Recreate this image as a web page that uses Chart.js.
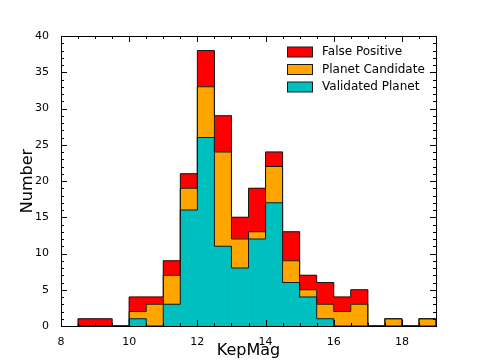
<!DOCTYPE html>
<html>
<head>
<meta charset="utf-8">
<script src="https://cdn.jsdelivr.net/npm/chart.js@4.4.1/dist/chart.umd.min.js"></script>
<style>
  html, body { margin: 0; padding: 0; background: #fff; }
  #wrap { width: 485px; height: 363px; }
</style>
</head>
<body>
<div id="wrap"><canvas id="histo"></canvas></div>
<script>
Chart.defaults.font.family = "'DejaVu Sans', sans-serif";
Chart.defaults.color = '#000';

// bins of width 0.5 from 8.5 to 19
const binEdges = [8.5, 9, 9.5, 10, 10.5, 11, 11.5, 12, 12.5, 13, 13.5, 14,
  14.5, 15, 15.5, 16, 16.5, 17, 17.5, 18, 18.5, 19];
const validated = [0, 0, 0, 1, 0, 3, 16, 26, 11, 8, 12, 17, 6, 4, 1, 0, 0, 0, 0, 0, 0];
const candidate = [0, 0, 0, 1, 3, 4, 3, 7, 13, 4, 1, 5, 3, 1, 2, 2, 3, 0, 1, 0, 1];
const falsePos  = [1, 1, 0, 2, 1, 2, 2, 5, 5, 3, 6, 2, 4, 2, 3, 2, 2, 0, 0, 0, 0];
const xTicks = [8, 10, 12, 14, 16, 18];
const seriesNames = ['Validated Planet', 'Planet Candidate', 'False Positive'];
const seriesColors = ['#00bfbf', '#ffa500', '#ff0000'];

const layers = [validated, candidate, falsePos];
const centers = binEdges.slice(0, -1).map((e, i) => (e + binEdges[i + 1]) / 2);

// filled bars (stacked)
const bars = layers.map((arr, i) => ({
  type: 'bar',
  label: seriesNames[i],
  stack: 'hist',
  order: 2,
  data: centers.map((c, j) => ({ x: c, y: arr[j] })),
  backgroundColor: seriesColors[i],
  borderWidth: 0,
  barPercentage: 1,
  categoryPercentage: 1
}));

// step outline of each cumulative layer (stepfilled look)
const steps = layers.map((arr, i) => {
  const cum = arr.map((_, j) => layers.slice(0, i + 1).reduce((s, a) => s + a[j], 0));
  const pts = [{ x: binEdges[0], y: 0 }];
  cum.forEach((v, j) => pts.push({ x: binEdges[j + 1], y: v }));
  pts.push({ x: binEdges[binEdges.length - 1], y: 0 });
  return {
    type: 'line',
    label: 'edge' + i,
    yAxisID: 'yEdge',
    order: 1,
    data: pts,
    stepped: 'after',
    borderColor: '#1a1a1a',
    borderWidth: 1,
    pointRadius: 0,
    fill: false
  };
});

// inward ticks + frame + legend, like matplotlib
const frame = {
  id: 'frame',
  afterDatasetsDraw(chart) {
    const { ctx, chartArea: a, scales: { x, y } } = chart;
    ctx.save();
    ctx.strokeStyle = '#000';
    ctx.lineWidth = 1;
    ctx.beginPath();
    for (let v = 8; v <= 19.001; v += 0.5) {
      const px = Math.round(x.getPixelForValue(v)) + 0.5;
      const len = (v % 2 === 0) ? 6 : 3;
      ctx.moveTo(px, a.bottom); ctx.lineTo(px, a.bottom - len);
      ctx.moveTo(px, a.top); ctx.lineTo(px, a.top + len);
    }
    for (let v = 0; v <= 40; v += 1) {
      const py = Math.round(y.getPixelForValue(v)) + 0.5;
      const len = (v % 5 === 0) ? 6 : 3;
      ctx.moveTo(a.left, py); ctx.lineTo(a.left + len, py);
      ctx.moveTo(a.right, py); ctx.lineTo(a.right - len, py);
    }
    ctx.stroke();
    ctx.strokeRect(Math.round(a.left) + 0.5, Math.round(a.top) + 0.5,
      Math.round(a.right - a.left), Math.round(a.bottom - a.top));

    ctx.font = "12px 'DejaVu Sans', sans-serif";
    ctx.textBaseline = 'middle';
    [2, 1, 0].forEach((k, r) => {
      const ty = 52 + r * 17.5;
      ctx.fillStyle = seriesColors[k];
      ctx.fillRect(287.5, ty - 5, 25, 10);
      ctx.strokeStyle = '#1a1a1a';
      ctx.strokeRect(287.5, ty - 5, 25, 10);
      ctx.fillStyle = '#000';
      ctx.fillText(seriesNames[k], 322, ty);
    });
    ctx.restore();
  }
};

new Chart(document.getElementById('histo'), {
  type: 'bar',
  data: { datasets: [...bars, ...steps] },
  options: {
    responsive: true,
    maintainAspectRatio: false,
    animation: false,
    layout: { padding: { top: 36, right: 49, left: 0, bottom: 0 } },
    plugins: { legend: { display: false }, tooltip: { enabled: false } },
    scales: {
      x: {
        type: 'linear',
        offset: false,
        min: 8, max: 19,
        afterBuildTicks: s => { s.ticks = xTicks.map(v => ({ value: v })); },
        afterFit: s => { s.height = 37; },
        grid: { display: false, offset: false },
        border: { display: false },
        ticks: { font: { size: 11 }, padding: 2, maxRotation: 0 },
        title: { display: true, text: 'KepMag', font: { size: 16 }, padding: { top: 0, bottom: 3 } }
      },
      y: {
        stacked: true,
        min: 0, max: 40,
        afterFit: s => { s.width = 61; },
        grid: { display: false },
        border: { display: false },
        ticks: { stepSize: 5, font: { size: 11 }, padding: 4 },
        title: { display: true, text: 'Number', font: { size: 16 }, padding: { top: 18, bottom: 0 } }
      },
      yEdge: {
        type: 'linear',
        display: false,
        stacked: false,
        min: 0, max: 40
      }
    }
  },
  plugins: [frame]
});
</script>
</body>
</html>
